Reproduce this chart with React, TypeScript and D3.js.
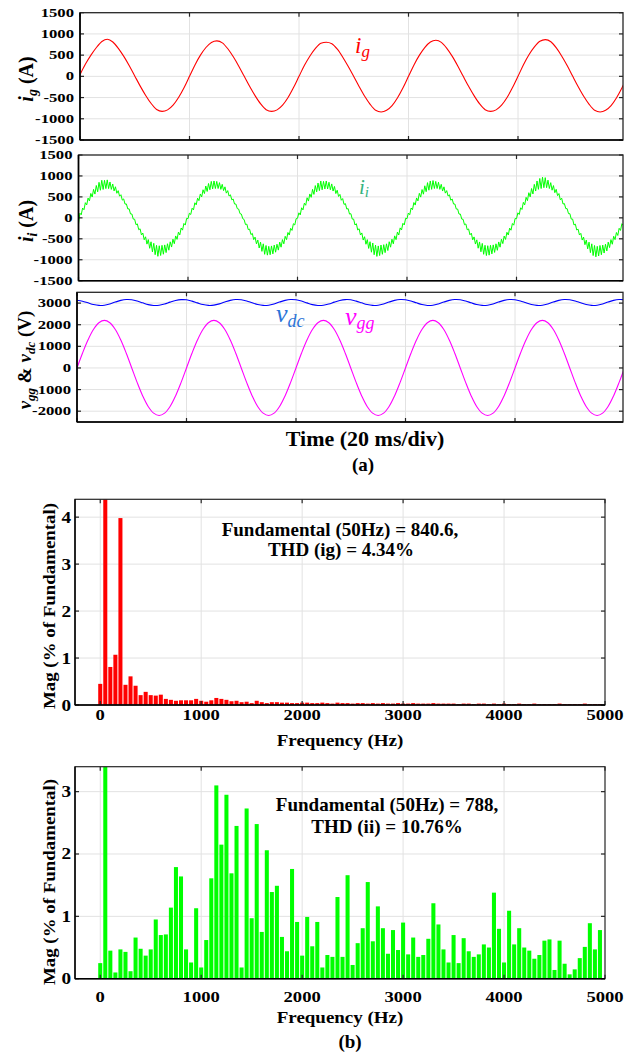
import React from "react";
import * as d3 from "d3";

const FONT = "'Liberation Serif','Times New Roman',Times,serif";

// ---------------- time-domain data (ms) ----------------
const tCoarse = d3.range(0, 101, 1);
const tFine = d3.range(0, 100.125, 0.25);

const igValues = [
  40, 290, 500, 680, 820, 875, 810, 660, 470, 250, 10, -230, -450, -640, -780, -825, -790, -680, -500, -270,
  0, 270, 500, 680, 800, 835, 790, 650, 460, 240, 0, -240, -460, -650, -785, -825, -790, -680, -500, -265,
  0, 260, 480, 660, 780, 805, 770, 640, 450, 230, -5, -245, -470, -660, -800, -840, -800, -690, -505, -270,
  0, 270, 500, 685, 810, 850, 800, 660, 470, 245, 0, -240, -460, -650, -785, -825, -790, -680, -500, -265,
  0, 275, 510, 695, 825, 865, 815, 670, 475, 250, 0, -245, -470, -660, -800, -840, -800, -690, -505, -270,
  0,
];

// inverter current, sampled every 0.25 ms (switching ripple visible)
const iiValues = [
  -150, 112, 73, 234, 193, 362, 308, 472, 403, 582, 497, 679, 567, 772, 622, 848, 659, 896, 678, 896,
  698, 906, 698, 856, 679, 808, 642, 742, 587, 649, 517, 552, 423, 452, 328, 332, 213, 214, 93, 92,
  -30, -32, -163, -144, -283, -262, -408, -362, -523, -452, -627, -519, -727, -572, -812, -608, -879, -656, -918, -666,
  -898, -656, -868, -646, -829, -618, -772, -572, -697, -509, -617, -432, -513, -342, -408, -242, -293, -134, -173, -12,
  -20, 110, 80, 230, 190, 360, 310, 470, 410, 570, 500, 670, 580, 760, 630, 820, 670, 870, 690, 880,
  700, 870, 700, 840, 680, 800, 650, 740, 590, 650, 520, 550, 430, 450, 330, 330, 220, 210, 100, 90,
  -20, -40, -160, -150, -280, -270, -400, -370, -520, -460, -620, -530, -720, -580, -800, -620, -870, -660, -890, -680,
  -880, -670, -860, -650, -820, -630, -770, -580, -700, -520, -620, -440, -520, -350, -410, -250, -300, -140, -170, -20,
  -10, 120, 70, 240, 190, 350, 300, 480, 400, 570, 490, 680, 560, 770, 620, 830, 650, 880, 670, 870,
  690, 880, 690, 850, 670, 810, 640, 750, 580, 660, 510, 560, 420, 460, 320, 340, 210, 220, 90, 100,
  -30, -30, -170, -140, -290, -260, -410, -360, -530, -450, -630, -520, -730, -570, -820, -600, -880, -650, -920, -670,
  -900, -650, -870, -640, -830, -620, -780, -570, -700, -510, -620, -430, -520, -340, -410, -240, -290, -130, -170, -10,
  -20, 115, 75, 235, 195, 365, 305, 475, 405, 585, 495, 675, 565, 765, 625, 840, 660, 880, 680, 890,
  700, 870, 700, 850, 680, 800, 640, 740, 590, 650, 520, 550, 420, 450, 330, 330, 210, 210, 90, 90,
  -30, -35, -165, -145, -285, -265, -405, -365, -525, -455, -625, -525, -725, -575, -810, -610, -870, -655, -900, -665,
  -890, -655, -860, -645, -825, -620, -775, -575, -700, -510, -615, -435, -515, -345, -410, -245, -295, -135, -175, -15,
  -20, 120, 80, 240, 200, 370, 310, 490, 410, 600, 500, 700, 570, 800, 640, 880, 680, 940, 700, 970,
  720, 960, 720, 900, 700, 840, 660, 770, 600, 680, 530, 580, 430, 470, 330, 340, 220, 220, 100, 100,
  -30, -30, -170, -150, -290, -270, -410, -370, -530, -460, -640, -530, -740, -580, -830, -620, -900, -660, -930, -680,
  -910, -660, -880, -650, -840, -630, -790, -580, -710, -520, -630, -440, -520, -350, -420, -250, -300, -140, -180, -20,
  -30,
];

const vggValues = [
  0, 680, 1293, 1780, 2092, 2200, 2092, 1780, 1293, 680, 0, -680, -1293, -1780, -2092, -2200, -2092, -1780, -1293, -680,
  0, 680, 1293, 1780, 2092, 2200, 2092, 1780, 1293, 680, 0, -680, -1293, -1780, -2092, -2200, -2092, -1780, -1293, -680,
  0, 680, 1293, 1780, 2092, 2200, 2092, 1780, 1293, 680, 0, -680, -1293, -1780, -2092, -2200, -2092, -1780, -1293, -680,
  0, 680, 1293, 1780, 2092, 2200, 2092, 1780, 1293, 680, 0, -680, -1293, -1780, -2092, -2200, -2092, -1780, -1293, -680,
  0, 680, 1293, 1780, 2092, 2200, 2092, 1780, 1293, 680, 0, -680, -1293, -1780, -2092, -2200, -2092, -1780, -1293, -680,
  0,
];

const vdcValues = [
  3130, 3090, 3012, 2934, 2893, 2903, 2963, 3048, 3126, 3167,
  3157, 3097, 3012, 2930, 2890, 2900, 2960, 3045, 3120, 3160,
  3152, 3092, 3010, 2932, 2893, 2905, 2965, 3050, 3128, 3168,
  3157, 3097, 3012, 2934, 2893, 2903, 2963, 3048, 3126, 3167,
  3155, 3095, 3010, 2930, 2890, 2900, 2960, 3045, 3122, 3162,
  3152, 3092, 3012, 2934, 2893, 2903, 2963, 3048, 3126, 3167,
  3157, 3097, 3012, 2932, 2891, 2901, 2962, 3047, 3125, 3165,
  3155, 3095, 3012, 2934, 2893, 2903, 2963, 3048, 3126, 3167,
  3157, 3097, 3012, 2934, 2893, 2903, 2963, 3048, 3126, 3167,
  3157, 3097, 3012, 2934, 2893, 2903, 2963, 3048, 3126, 3167,
  3157,
];

const currentTicks = [-1500, -1000, -500, 0, 500, 1000, 1500];
const voltageTicks = [-2000, -1000, 0, 1000, 2000, 3000];
const timeGridTicks = [0, 20, 40, 60, 80];

// ---------------- spectrum data ----------------
const harmonicFreqs = d3.range(0, 5000, 50);
const freqTicks = [0, 1000, 2000, 3000, 4000, 5000];

const igSpectrum = [
  0.45, 100, 0.81, 1.07, 3.98, 0.43, 0.61, 0.41, 0.21, 0.28,
  0.21, 0.2, 0.22, 0.13, 0.11, 0.09, 0.1, 0.1, 0.1, 0.13,
  0.09, 0.07, 0.1, 0.15, 0.13, 0.11, 0.08, 0.09, 0.06, 0.07,
  0.04, 0.09, 0.06, 0.04, 0.06, 0.06, 0.05, 0.05, 0.04, 0.04,
  0.05, 0.05, 0.04, 0.04, 0.05, 0.04, 0.03, 0.05, 0.04, 0.04,
  0.03, 0.04, 0.04, 0.03, 0.04, 0.03, 0.04, 0.03, 0.03, 0.04,
  0.03, 0.03, 0.04, 0.03, 0.03, 0.03, 0.04, 0.03, 0.03, 0.03,
  0.03, 0.02, 0.03, 0.03, 0.02, 0.03, 0.03, 0.02, 0.03, 0.02,
  0.03, 0.02, 0.02, 0.03, 0.02, 0.02, 0.03, 0.02, 0.02, 0.02,
  0.02, 0.03, 0.02, 0.02, 0.02, 0.02, 0.03, 0.02, 0.02, 0.02,
];

const iiSpectrum = [
  0.25, 100, 0.45, 0.1, 0.47, 0.43, 0.12, 0.66, 0.48, 0.37,
  0.47, 0.95, 0.7, 0.71, 1.14, 1.79, 1.64, 0.47, 0.26, 1.13,
  0.18, 0.62, 1.61, 3.1, 2.15, 2.95, 1.69, 2.45, 0.18, 2.73,
  0.97, 2.48, 0.75, 2.06, 1.39, 1.49, 0.67, 0.44, 1.76, 0.91,
  0.37, 0.99, 0.52, 0.91, 0.18, 0.38, 0.35, 1.31, 0.35, 1.66,
  0.22, 0.57, 0.81, 1.55, 0.6, 1.16, 0.81, 0.4, 0.78, 0.46,
  0.9, 0.39, 0.66, 0.35, 0.38, 0.64, 1.21, 0.87, 0.47, 0.26,
  0.7, 0.25, 0.65, 0.44, 0.35, 0.39, 0.55, 0.5, 1.38, 0.8,
  0.26, 1.09, 0.55, 0.81, 0.5, 0.45, 0.32, 0.38, 0.61, 0.63,
  0.14, 0.61, 0.24, 0.07, 0.15, 0.33, 0.51, 0.89, 0.47, 0.78,
];

const igMagTicks = [0, 1, 2, 3, 4];
const iiMagTicks = [0, 1, 2, 3];

// ---------------- helpers ----------------
type Series = { t: number[]; v: number[]; color: string; curve: d3.CurveFactory; width?: number };

const GRID = "#e2e2e2";
const AXIS = "#262626";
const DIV_PX = 109.5;

function TimePanel(props: {
  id: string;
  left: number;
  right: number;
  top: number;
  bottom: number;
  yDomain: [number, number];
  yTicks: number[];
  series: Series[];
}) {
  const { id, left, right, top, bottom, yDomain, yTicks, series } = props;
  const x = d3.scaleLinear().domain([0, ((right - left) / DIV_PX) * 20]).range([left, right]);
  const y = d3.scaleLinear().domain(yDomain).range([bottom, top]);
  const tl = 4;
  return (
    <g>
      <defs>
        <clipPath id={id}>
          <rect x={left} y={top} width={right - left} height={bottom - top} />
        </clipPath>
      </defs>
      {timeGridTicks
        .filter((t) => t > 0)
        .map((t) => (
          <line key={"gx" + t} x1={x(t)} x2={x(t)} y1={top} y2={bottom} stroke={GRID} strokeWidth={1} />
        ))}
      {yTicks
        .filter((v) => y(v) > top + 1 && y(v) < bottom - 1)
        .map((v) => (
          <line key={"gy" + v} x1={left} x2={right} y1={y(v)} y2={y(v)} stroke={GRID} strokeWidth={1} />
        ))}
      <g clipPath={`url(#${id})`}>
        {series.map((s, i) => {
          const line = d3
            .line<number>()
            .x((_, j) => x(s.t[j]))
            .y((d) => y(d))
            .curve(s.curve);
          return <path key={i} d={line(s.v) || ""} fill="none" stroke={s.color} strokeWidth={s.width ?? 1.1} />;
        })}
      </g>
      {timeGridTicks.map((t) => (
        <g key={"tx" + t}>
          <line x1={x(t)} x2={x(t)} y1={bottom} y2={bottom - tl} stroke={AXIS} strokeWidth={1.2} />
          <line x1={x(t)} x2={x(t)} y1={top} y2={top + tl} stroke={AXIS} strokeWidth={1.2} />
        </g>
      ))}
      {yTicks.map((v) => (
        <g key={"ty" + v}>
          <line x1={left} x2={left + tl} y1={y(v)} y2={y(v)} stroke={AXIS} strokeWidth={1.2} />
          <line x1={right} x2={right - tl} y1={y(v)} y2={y(v)} stroke={AXIS} strokeWidth={1.2} />
        </g>
      ))}
      <rect x={left} y={top} width={right - left} height={bottom - top} fill="none" stroke={AXIS} strokeWidth={1.3} />
      <line x1={left} x2={left} y1={top} y2={bottom} stroke="#000" strokeWidth={1.6} />
      <line x1={left} x2={right} y1={bottom} y2={bottom} stroke="#000" strokeWidth={1.6} />
      {yTicks.map((v) => (
        <text
          key={"ly" + v}
          transform={`translate(${left - 6},${y(v) + 4}) scale(1.45,1)`}
          textAnchor="end"
          fontSize={11.5}
          fontWeight="bold"
          fontFamily={FONT}
        >
          {v}
        </text>
      ))}
    </g>
  );
}

function SpectrumPanel(props: {
  id: string;
  top: number;
  bottom: number;
  yMax: number;
  yTicks: number[];
  values: number[];
  color: string;
  tickBaseline: number;
}) {
  const { id, top, bottom, yMax, yTicks, values, color, tickBaseline } = props;
  const left = 75;
  const right = 605;
  const x = d3.scaleLinear().domain([-250, 5000]).range([left, right]);
  const y = d3.scaleLinear().domain([0, yMax]).range([bottom, top]);
  const bw = (x(50) - x(0)) * 0.8;
  const tl = 4;
  return (
    <g>
      <defs>
        <clipPath id={id}>
          <rect x={left} y={top} width={right - left} height={bottom - top} />
        </clipPath>
      </defs>
      {freqTicks
        .filter((f) => x(f) < right - 1)
        .map((f) => (
          <line key={"gx" + f} x1={x(f)} x2={x(f)} y1={top} y2={bottom} stroke={GRID} strokeWidth={1} />
        ))}
      {yTicks
        .filter((v) => v > 0)
        .map((v) => (
          <line key={"gy" + v} x1={left} x2={right} y1={y(v)} y2={y(v)} stroke={GRID} strokeWidth={1} />
        ))}
      <g clipPath={`url(#${id})`}>
        {values.map((v, i) => (
          <rect
            key={i}
            x={x(harmonicFreqs[i]) - bw / 2}
            y={y(Math.min(v, yMax * 1.05))}
            width={bw}
            height={bottom - y(Math.min(v, yMax * 1.05))}
            fill={color}
          />
        ))}
      </g>
      {freqTicks.map((f) => (
        <g key={"tx" + f}>
          <line x1={x(f)} x2={x(f)} y1={bottom} y2={bottom - tl} stroke={AXIS} strokeWidth={1.2} />
          <line x1={x(f)} x2={x(f)} y1={top} y2={top + tl} stroke={AXIS} strokeWidth={1.2} />
        </g>
      ))}
      {yTicks.map((v) => (
        <g key={"ty" + v}>
          <line x1={left} x2={left + tl} y1={y(v)} y2={y(v)} stroke={AXIS} strokeWidth={1.2} />
          <line x1={right} x2={right - tl} y1={y(v)} y2={y(v)} stroke={AXIS} strokeWidth={1.2} />
        </g>
      ))}
      <rect x={left} y={top} width={right - left} height={bottom - top} fill="none" stroke={AXIS} strokeWidth={1.2} />
      <line x1={left} x2={left} y1={top} y2={bottom} stroke="#000" strokeWidth={1.4} />
      <line x1={left} x2={right} y1={bottom} y2={bottom} stroke="#000" strokeWidth={1.4} />
      {freqTicks.map((f) => (
        <text
          key={"lx" + f}
          transform={`translate(${x(f)},${tickBaseline}) scale(1.2,1)`}
          textAnchor="middle"
          fontSize={15.5}
          fontWeight="bold"
          fontFamily={FONT}
        >
          {f}
        </text>
      ))}
      {yTicks.map((v) => (
        <text
          key={"ly" + v}
          transform={`translate(${left - 4},${y(v) + 5.5}) scale(1.2,1)`}
          textAnchor="end"
          fontSize={16}
          fontWeight="bold"
          fontFamily={FONT}
        >
          {v}
        </text>
      ))}
    </g>
  );
}

function SText(props: {
  x: number;
  y: number;
  size: number;
  sx?: number;
  rotate?: number;
  anchor?: "start" | "middle" | "end";
  fill?: string;
  weight?: string;
  italic?: boolean;
  children: React.ReactNode;
}) {
  const { x, y, size, sx = 1, rotate = 0, anchor = "middle", fill = "#000", weight = "bold", italic = false } = props;
  return (
    <text
      transform={`translate(${x},${y}) rotate(${rotate}) scale(${sx},1)`}
      textAnchor={anchor}
      fontSize={size}
      fontWeight={weight}
      fontStyle={italic ? "italic" : "normal"}
      fontFamily={FONT}
      fill={fill}
    >
      {props.children}
    </text>
  );
}

export default function App() {
  return (
    <svg
      width={624}
      height={1056}
      viewBox="0 0 624 1056"
      style={{ position: "absolute", left: 0, top: 0, background: "#fff" }}
    >
      <rect x={0} y={0} width={624} height={1056} fill="#fff" />

      {/* ---------- (a) time domain ---------- */}
      <TimePanel
        id="clipIg"
        left={80}
        right={623}
        top={12.7}
        bottom={140}
        yDomain={[-1500, 1500]}
        yTicks={currentTicks}
        series={[{ t: tCoarse, v: igValues, color: "#ff0000", curve: d3.curveMonotoneX }]}
      />
      <TimePanel
        id="clipIi"
        left={78.5}
        right={623}
        top={155}
        bottom={280.7}
        yDomain={[-1500, 1500]}
        yTicks={currentTicks}
        series={[{ t: tFine, v: iiValues, color: "#00ff00", curve: d3.curveLinear, width: 1 }]}
      />
      <TimePanel
        id="clipV"
        left={77}
        right={623}
        top={292.3}
        bottom={422}
        yDomain={[-2500, 3500]}
        yTicks={voltageTicks}
        series={[
          { t: tCoarse, v: vdcValues, color: "#0000ff", curve: d3.curveCatmullRom },
          { t: tCoarse, v: vggValues, color: "#ff00ff", curve: d3.curveCatmullRom },
        ]}
      />

      {/* in-plot labels */}
      <text x={355} y={53} fontSize={23} fontStyle="italic" fill="#ff0000" fontFamily={FONT}>
        i<tspan fontSize={17} dy={4}>g</tspan>
      </text>
      <text x={359} y={194} fontSize={21} fontStyle="italic" fill="#35b37e" fontFamily={FONT}>
        i<tspan fontSize={15} dy={3}>i</tspan>
      </text>
      <text x={276} y={322} fontSize={26} fontStyle="italic" fill="#2b74d8" fontFamily={FONT}>
        v<tspan fontSize={18} dy={5}>dc</tspan>
      </text>
      <text x={345} y={325} fontSize={26} fontStyle="italic" fill="#ff00ff" fontFamily={FONT}>
        v<tspan fontSize={18} dy={4}>gg</tspan>
      </text>

      {/* y labels */}
      <SText x={33} y={79} size={20} rotate={-90}>
        <tspan fontStyle="italic">i</tspan>
        <tspan fontStyle="italic" fontSize={14} dy={4}>g</tspan>
        <tspan dy={-4}> (A)</tspan>
      </SText>
      <SText x={33} y={221} size={20} rotate={-90}>
        <tspan fontStyle="italic">i</tspan>
        <tspan fontStyle="italic" fontSize={14} dy={4}>i</tspan>
        <tspan dy={-4}> (A)</tspan>
      </SText>
      <SText x={31} y={360} size={19} rotate={-90}>
        <tspan fontStyle="italic">v</tspan>
        <tspan fontStyle="italic" fontSize={13} dy={4}>gg</tspan>
        <tspan dy={-4}> &amp; </tspan>
        <tspan fontStyle="italic">v</tspan>
        <tspan fontStyle="italic" fontSize={13} dy={4}>dc</tspan>
        <tspan dy={-4}> (V)</tspan>
      </SText>

      <SText x={365} y={446} size={20} sx={1.1}>
        Time (20 ms/div)
      </SText>
      <SText x={363} y={471} size={19}>
        (a)
      </SText>

      {/* ---------- (b) spectra ---------- */}
      <SpectrumPanel
        id="clipSg"
        top={499.3}
        bottom={705}
        yMax={4.38}
        yTicks={igMagTicks}
        values={igSpectrum}
        color="#ff0000"
        tickBaseline={720}
      />
      <SText x={340} y={536} size={18.5} sx={1.03}>
        Fundamental (50Hz) = 840.6,
      </SText>
      <SText x={341} y={556} size={18.5} sx={1.03}>
        THD (ig) = 4.34%
      </SText>
      <SText x={340} y={746} size={16.5} sx={1.15}>
        Frequency (Hz)
      </SText>
      <SText x={55} y={606} size={17.5} rotate={-90} sx={1.08}>
        Mag (% of Fundamental)
      </SText>

      <SpectrumPanel
        id="clipSi"
        top={766.7}
        bottom={978.7}
        yMax={3.4}
        yTicks={iiMagTicks}
        values={iiSpectrum}
        color="#00ff00"
        tickBaseline={1002}
      />
      <SText x={387} y={811} size={18.5} sx={1.03}>
        Fundamental (50Hz) = 788,
      </SText>
      <SText x={387} y={833} size={18.5} sx={1.03}>
        THD (ii) = 10.76%
      </SText>
      <SText x={340} y={1023} size={16.5} sx={1.15}>
        Frequency (Hz)
      </SText>
      <SText x={55} y={882} size={17.5} rotate={-90} sx={1.08}>
        Mag (% of Fundamental)
      </SText>
      <SText x={350} y={1048} size={19}>
        (b)
      </SText>
    </svg>
  );
}
